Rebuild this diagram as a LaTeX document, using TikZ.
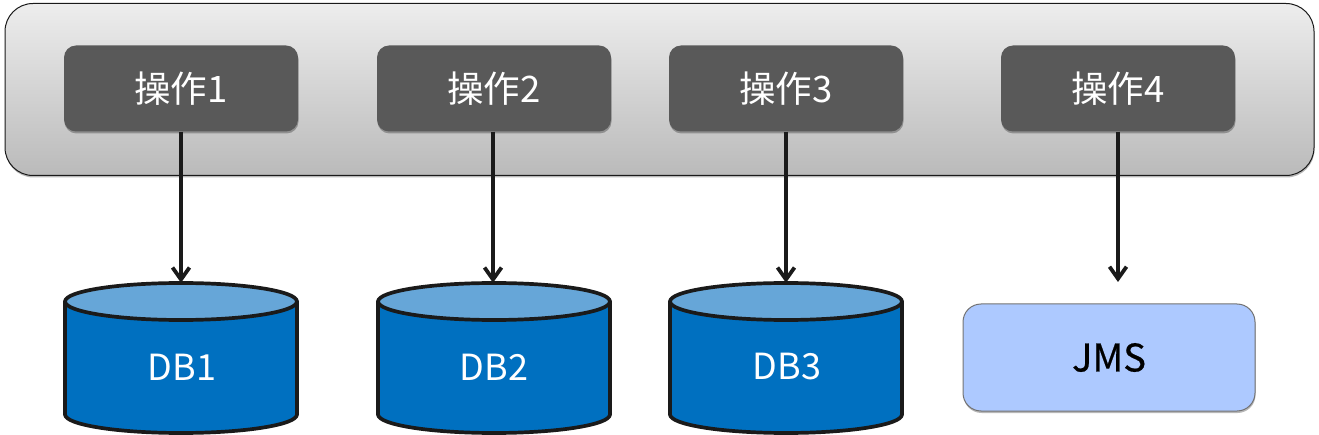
\documentclass[tikz,border=0pt]{standalone}
\usepackage{fontspec}
\setmainfont{Noto Sans CJK SC}
\newfontfamily\jmsfont[FakeBold=0.6]{Noto Sans CJK SC}
\usetikzlibrary{arrows.meta,shadows}
\definecolor{opfill}{HTML}{595959}
\definecolor{dbbody}{HTML}{0070C0}
\definecolor{dbtop}{HTML}{66A6D8}
\definecolor{jmsfill}{HTML}{ADC9FF}
\definecolor{linek}{HTML}{1A1A1A}
\tikzset{
  softshadow/.style={drop shadow={shadow xshift=0.5pt,shadow yshift=-2pt,fill=black,opacity=0.28}},
  panel/.style={draw=linek,line width=1pt,rounded corners=28pt,top color=black!7,bottom color=black!27,minimum width=1309pt,minimum height=172pt,inner sep=0pt,softshadow},
  opbox/.style={fill=opfill,rounded corners=12pt,minimum width=234pt,minimum height=86pt,inner sep=0pt,text=white,font=\fontsize{36.5}{42}\selectfont,softshadow},
  dbanchor/.style={minimum width=234pt,minimum height=150pt,inner sep=0pt},
  dbline/.style={draw=linek,line width=3.7pt,line join=round},
  dbtext/.style={text=white,font=\fontsize{36}{42}\selectfont,inner sep=0pt},
  jmsbox/.style={draw=black!55,line width=1pt,fill=jmsfill,rounded corners=18pt,minimum width=292pt,minimum height=107pt,inner sep=0pt,text=black,font=\fontsize{38}{42}\jmsfont,softshadow},
  flow/.style={draw=linek,line width=3.8pt,-{Straight Barb[length=12pt,width=17pt,line width=3.8pt]}},
}
\newcommand{\dbcan}[2]{%
  \begin{scope}[shift={(#2,358)}]
    \path[dbline,fill=dbbody] (-116,-56.5) -- (-116,56.5)
      .. controls (-116,66.7) and (-64,75) .. (0,75)
      .. controls (64,75) and (116,66.7) .. (116,56.5)
      -- (116,-56.5) -- cycle;
    \path[dbline,fill=dbtop] (0,-56.5) ellipse [x radius=116,y radius=18.5];
  \end{scope}
  \node[dbanchor] (#1) at (#2,358) {};
}
\begin{document}
\begin{tikzpicture}[x=1pt,y=-1pt]
\useasboundingbox (0,0) rectangle (1319,435);
\node[panel] (main) at (659.5,89.5) {};
\node[opbox] (o1) at (181,88.5) {操作1};
\node[opbox] (o2) at (494,88.5) {操作2};
\node[opbox] (o3) at (786,88.5) {操作3};
\node[opbox] (o4) at (1118,88.5) {操作4};
\dbcan{d1}{181}
\dbcan{d2}{494}
\dbcan{d3}{786}
\node[dbtext] (t1) at (182,367) {DB1};
\node[dbtext] (t2) at (494,367) {DB2};
\node[dbtext] (t3) at (787,367) {DB3};
\node[jmsbox] (j) at (1109,357.5) {JMS};
\coordinate (jt) at (1118,282);
\draw[flow] (o1.south) -- (d1.north);
\draw[flow] ([xshift=-1pt]o2.south) -- ([xshift=-1pt]d2.north);
\draw[flow] (o3.south) -- (d3.north);
\draw[flow] (o4.south) -- (jt);
\end{tikzpicture}
\end{document}
